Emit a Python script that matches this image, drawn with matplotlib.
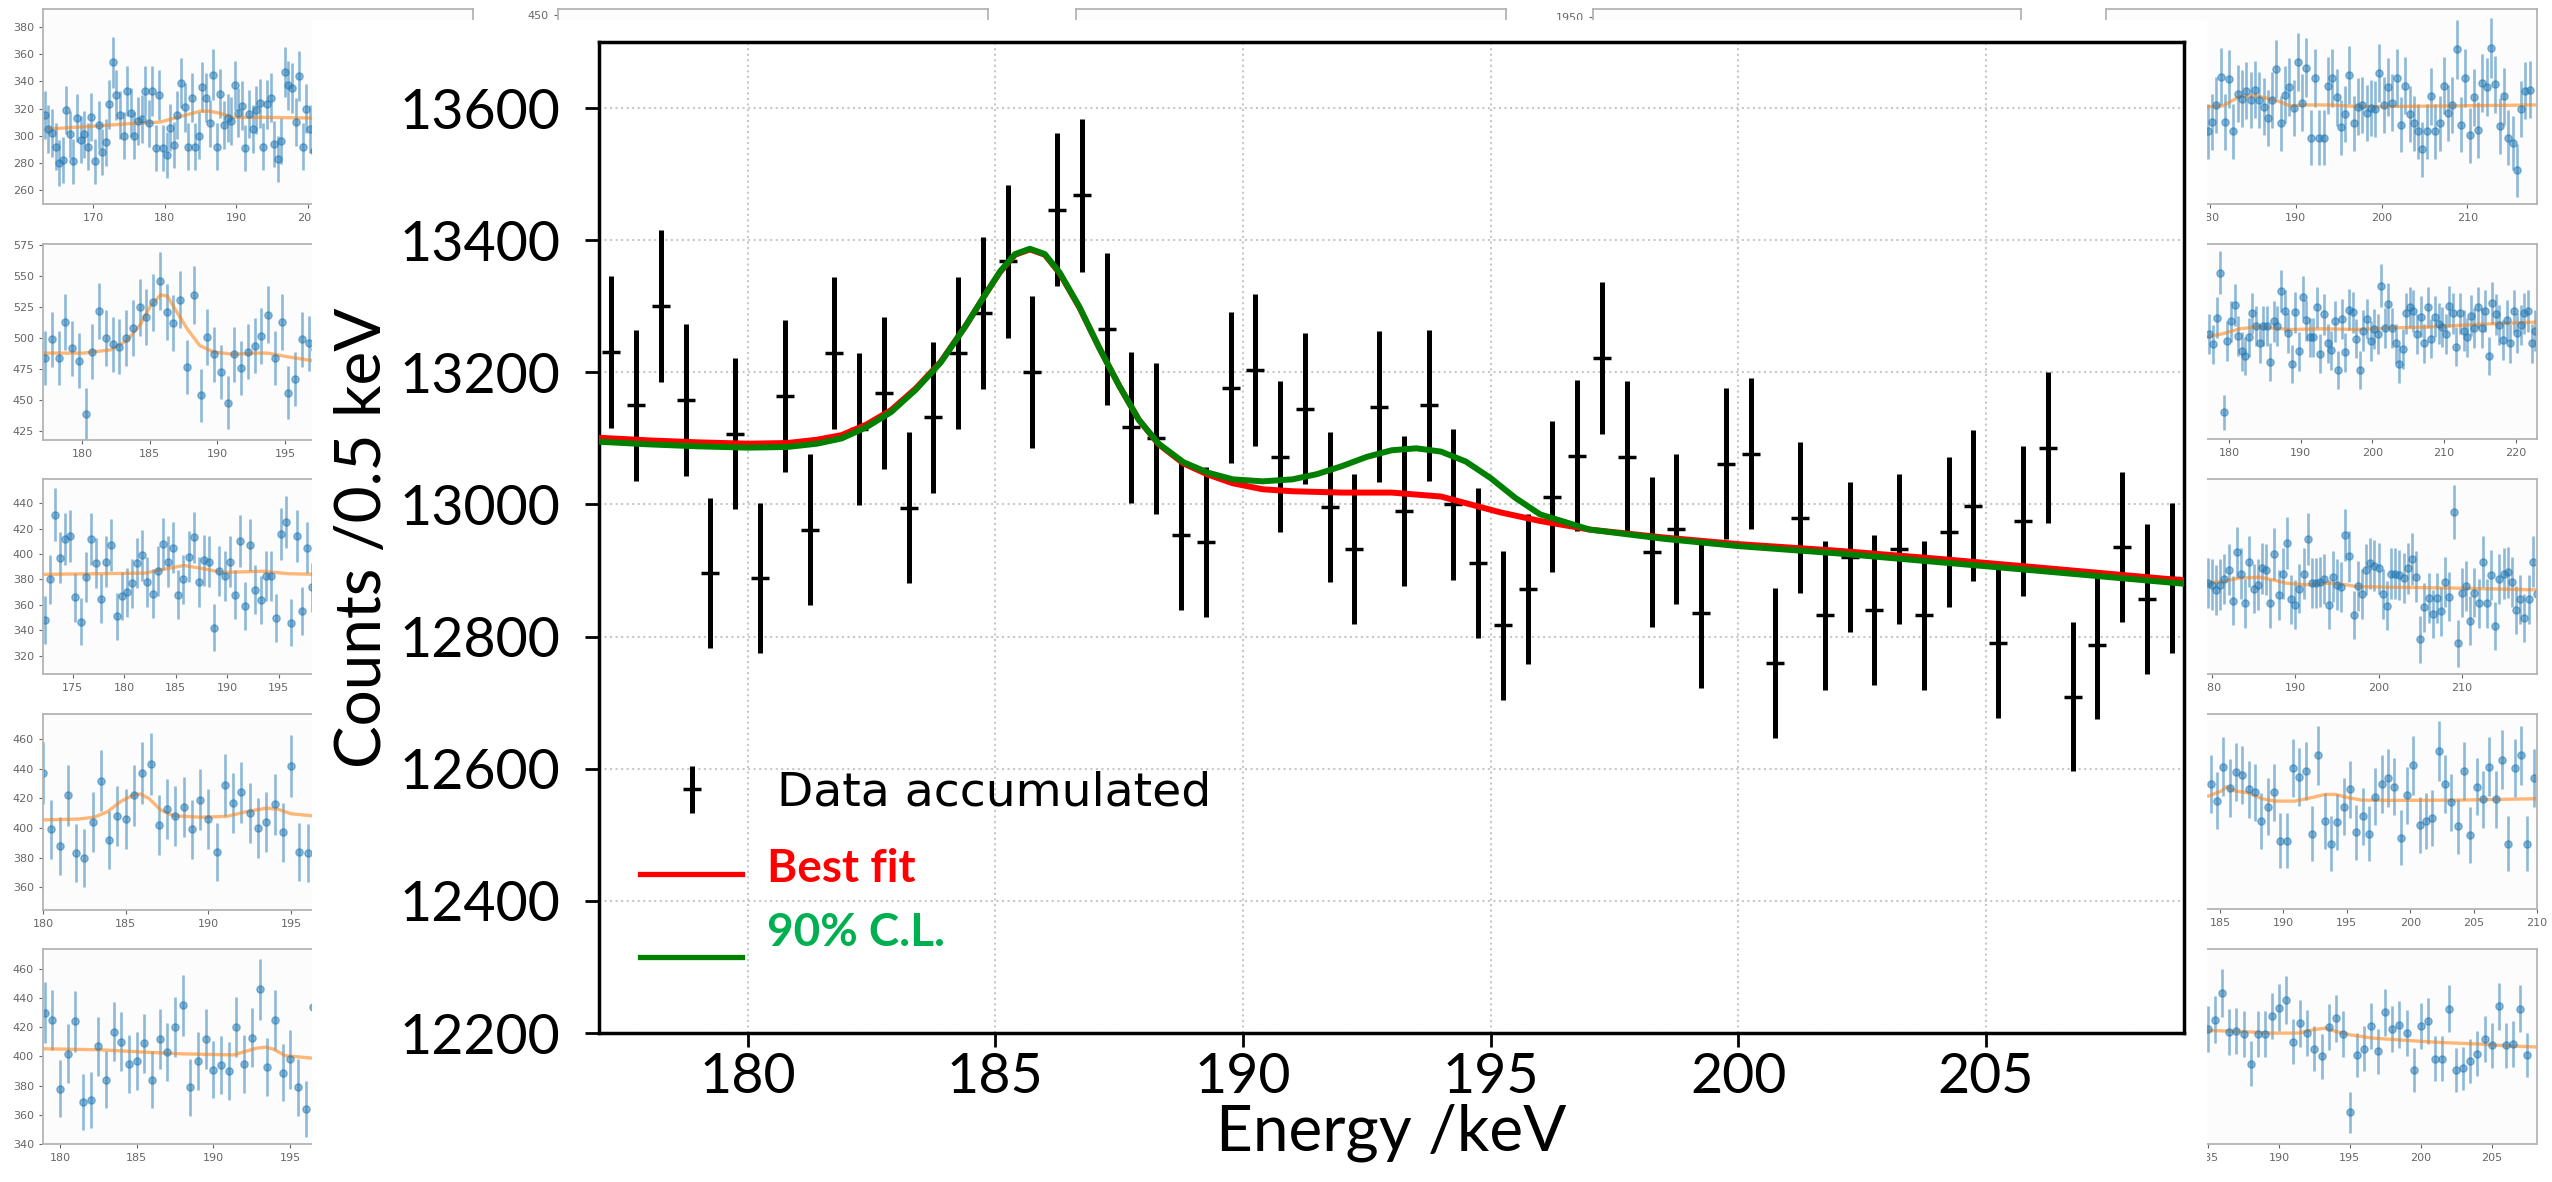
import numpy as np
import matplotlib
matplotlib.use('Agg')
import matplotlib.pyplot as plt
from matplotlib.patches import Rectangle

# ---- main spectrum (0.5 keV bins) ----
energy = np.arange(177.25, 209.0, 0.5)
counts = [13231, 13150, 13300, 13158, 12896, 13107, 12889, 13164, 12962, 13229,
          13114, 13169, 12995, 13132, 13230, 13290, 13368, 13200, 13446, 13468,
          13265, 13117, 13100, 12954, 12943, 13177, 13204, 13072, 13145, 12996,
          12933, 13148, 12990, 13150, 13000, 12911, 12817, 12872, 13012, 13074,
          13222, 13072, 12928, 12963, 12835, 13062, 13077, 12760, 12980, 12832,
          12921, 12840, 12933, 12832, 12958, 12998, 12790, 12975, 13086, 12709,
          12788, 12936, 12857, 12889]

best_e = [177.0, 178.0, 179.0, 180.0, 180.8, 181.4, 181.9, 182.4, 182.9, 183.4,
          183.9, 184.4, 184.8, 185.1, 185.4, 185.7, 186.0, 186.3, 186.7, 187.1,
          187.5, 187.9, 188.3, 188.8, 189.3, 189.8, 190.4, 191.0, 192.0, 193.0,
          194.0, 194.6, 195.2, 196.0, 197.0, 198.5, 200.0, 202.0, 204.0, 206.0, 209.0]
best_c = [13101, 13097, 13094, 13092, 13093, 13098, 13105, 13121, 13143, 13176,
          13216, 13270, 13318, 13352, 13378, 13386, 13378, 13350, 13298, 13237,
          13180, 13128, 13091, 13062, 13045, 13032, 13023, 13020, 13018, 13018,
          13012, 13000, 12988, 12975, 12962, 12950, 12940, 12930, 12918, 12905, 12885]

cl_e = [177.0, 178.0, 179.0, 180.0, 180.8, 181.4, 181.9, 182.4, 182.9, 183.4,
        183.9, 184.4, 184.8, 185.1, 185.4, 185.7, 186.0, 186.3, 186.7, 187.1,
        187.5, 187.9, 188.3, 188.8, 189.3, 189.8, 190.4, 191.0, 191.5, 192.0,
        192.5, 193.0, 193.5, 194.0, 194.5, 195.0, 195.5, 196.0, 197.0, 198.5,
        200.0, 202.0, 204.0, 206.0, 209.0]
cl_c = [13095, 13091, 13088, 13086, 13087, 13092, 13100, 13117, 13140, 13174,
        13215, 13270, 13318, 13353, 13379, 13387, 13379, 13351, 13299, 13237,
        13180, 13128, 13092, 13064, 13048, 13038, 13035, 13038, 13046, 13058,
        13072, 13082, 13085, 13080, 13065, 13040, 13010, 12985, 12962, 12948,
        12937, 12926, 12913, 12900, 12880]

# ---- small detector panels: left column ----
l1_start = 163.25
l1_counts = [315, 305, 302, 292, 280, 282, 319, 301, 281, 313, 297, 301, 292, 314, 281,
             308, 288, 295, 323, 354, 330, 315, 300, 333, 317, 300, 311, 312, 333, 309,
             333, 291, 330, 291, 286, 306, 293, 315, 339, 321, 292, 328, 292, 300, 336,
             328, 309, 345, 292, 331, 308, 313, 311, 337, 317, 322, 291, 316, 305, 319,
             324, 292, 323, 328, 294, 283, 296, 347, 337, 335, 310, 344, 292, 320, 305, 289]
l1_fit_e = [163.8, 170.0, 175.6, 179.3, 182.1, 184.9, 186.3, 187.7, 189.5, 194.2, 200.5]
l1_fit_c = [305, 307, 309, 310, 314, 318, 318, 316.5, 313.5, 313.5, 313]

l2_start = 177.25
l2_counts = [484, 499, 484, 513, 492, 482, 439, 489, 522, 500, 495, 493, 500, 508, 525,
             517, 529, 546, 521, 512, 531, 477, 535, 454, 501, 487, 473, 448, 487, 476,
             489, 494, 502, 519, 484, 513, 456, 467, 499, 496, 491]
l2_fit_e = [177.2, 180.1, 182.1, 183.3, 184.3, 185.05, 185.8, 186.3, 187.0, 187.8,
            188.7, 189.7, 191.2, 192.7, 193.7, 195.2, 197.0]
l2_fit_c = [488, 488, 490.6, 498, 511, 526, 535, 534, 521, 507, 494, 489, 487, 488, 488, 485, 482]

l3_start = 172.25
l3_counts = [348, 380, 431, 397, 412, 414, 366, 347, 382, 412, 393, 365, 394, 407, 351,
             367, 370, 377, 393, 399, 378, 369, 387, 408, 394, 405, 368, 380, 398, 413,
             378, 395, 394, 342, 387, 383, 394, 368, 410, 359, 407, 372, 364, 383, 383,
             350, 416, 425, 346, 414, 355, 405, 374, 400]
l3_fit_e = [172.0, 182.0, 183.5, 185.8, 188.0, 189.5, 193.5, 196.0, 199.0]
l3_fit_c = [384, 385, 387.5, 391, 388, 385.5, 386.5, 384.5, 384]

l4_start = 180.0
l4_counts = [437, 399, 388, 422, 383, 380, 404, 432, 392, 408, 406, 422, 437, 443, 402,
             413, 408, 414, 399, 419, 406, 384, 429, 417, 424, 410, 400, 404, 416, 397,
             442, 384, 383]
l4_fit_e = [180.0, 182.1, 183.1, 183.9, 184.7, 185.5, 185.9, 186.4, 187.1, 187.9,
            189.5, 191.1, 192.3, 193.5, 194.2, 195.0, 196.3]
l4_fit_c = [405.5, 406, 407.3, 411, 417.9, 422.4, 422.9, 420, 412.3, 408.2,
            407.3, 407.8, 411, 413.4, 412.7, 409.6, 408.2]

l5_start = 179.0
l5_counts = [430, 425, 378, 402, 424, 369, 370, 407, 384, 417, 410, 395, 397, 409, 384,
             412, 403, 420, 435, 379, 397, 412, 391, 394, 390, 420, 395, 413, 446, 393,
             425, 389, 398, 379, 364, 434]
l5_fit_e = [178.9, 182.6, 185.85, 188.0, 191.3, 191.7, 192.8, 193.4, 193.9, 194.7, 196.4]
l5_fit_c = [405.3, 404.6, 402.8, 401.8, 401.1, 402.3, 405.7, 406.4, 405, 400.5, 398.9]

# ---- small detector panels: right column ----
r1_start = 179.75
r1_counts = [451, 458, 471, 493, 458, 491, 451, 480, 476, 482, 475, 483, 475, 470, 461,
             475, 499, 457, 479, 485, 469, 504, 473, 500, 446, 492, 446, 446, 486, 492,
             477, 454, 464, 494, 457, 470, 471, 465, 469, 468, 496, 471, 485, 473, 492,
             456, 486, 464, 457, 451, 437, 451, 478, 451, 457, 486, 465, 471, 514, 456,
             492, 448, 477, 452, 488, 485, 515, 487, 455, 478, 446, 442, 421, 468, 482, 483]
r1_fit_e = [179.65, 181.5, 183.5, 185.4, 186.6, 188.1, 189.3, 191.2, 194.0, 197.1, 201.0, 208.7, 218.1]
r1_fit_c = [469.7, 470.5, 477.7, 478.2, 476.4, 473.8, 470.5, 471.2, 471.2, 470, 470, 470.5, 471.2]

r2_start = 177.25
r2_counts = [299, 290, 313, 352, 231, 293, 310, 324, 297, 284, 280, 296, 317, 306, 291,
             306, 306, 275, 310, 306, 336, 319, 300, 273, 318, 284, 331, 311, 296, 296,
             322, 282, 316, 291, 285, 310, 268, 312, 283, 320, 318, 295, 268, 302, 312,
             293, 303, 299, 341, 304, 325, 304, 291, 273, 286, 317, 322, 319, 299, 314,
             291, 322, 295, 314, 308, 305, 299, 323, 317, 288, 317, 302, 296, 315, 304,
             322, 304, 319, 280, 326, 316, 307, 294, 311, 291, 319, 300, 307, 317, 319,
             291, 302]
r2_fit_e = [177.0, 179.2, 181.5, 183.9, 188.5, 193.2, 197.8, 202.5, 207.1, 211.8, 216.4, 222.9]
r2_fit_c = [296.5, 299.4, 303.5, 305.2, 302.9, 303.5, 302.9, 304.3, 304.9, 306.4, 307.8, 309.3]

r3_start = 179.5
r3_counts = [353, 352, 348, 352, 356, 363, 340, 376, 360, 338, 369, 349, 352, 364, 363,
             338, 375, 344, 360, 383, 341, 337, 349, 360, 386, 353, 353, 354, 356, 337,
             358, 352, 350, 389, 373, 329, 351, 345, 363, 368, 366, 364, 345, 336, 360,
             360, 359, 357, 364, 371, 358, 311, 335, 342, 330, 342, 332, 354, 343, 406,
             308, 346, 351, 325, 346, 338, 369, 338, 359, 321, 356, 360, 361, 354, 333,
             341, 327, 341, 369, 345]
r3_fit_e = [179.4, 181.3, 183.3, 185.7, 187.3, 188.9, 191.3, 194.1, 196.1, 197.3, 201.3, 209.3, 218.9]
r3_fit_c = [353, 354.3, 356.8, 357.5, 355.5, 353, 351.8, 353, 351.8, 350.5, 350, 349.3, 348]

r4_start = 184.25
r4_counts = [411, 399, 423, 408, 419, 417, 407, 405, 385, 395, 405, 371, 371, 422, 416,
             420, 376, 431, 385, 369, 384, 395, 407, 377, 388, 376, 402, 411, 415, 409,
             373, 403, 424, 382, 385, 387, 434, 411, 398, 381, 420, 375, 409, 400, 423,
             400, 428, 369, 422, 431, 369, 415]
r4_fit_e = [184.1, 185.1, 185.5, 186.2, 187.2, 188.3, 189.3, 190.9, 192.2, 193.3,
            194.1, 195.1, 196.2, 198.6, 203.8, 210.1]
r4_fit_c = [402.4, 405.9, 408.9, 405.9, 404.7, 400.5, 398.8, 398.8, 401.2, 403.5,
            403.5, 401.2, 399.5, 399.3, 399.5, 400.5]

r5_start = 185.0
r5_counts = [356, 364, 386, 354, 355, 352, 328, 352, 352, 367, 374, 380, 346, 361, 353,
             340, 334, 358, 365, 352, 288, 335, 340, 359, 338, 370, 356, 360, 353, 323,
             359, 363, 332, 332, 373, 323, 324, 330, 336, 348, 343, 375, 343, 344, 373, 335]
r5_fit_e = [184.8, 187.2, 189.5, 191.4, 192.4, 193.3, 194.0, 195.0, 196.6, 199.0,
            201.4, 203.8, 206.1, 208.3]
r5_fit_c = [355.2, 354.4, 353, 353, 355.8, 357.1, 354.4, 351.6, 348.9, 347,
            345.3, 344.2, 342.6, 341.5]

W, H = 2552, 1182
fig = plt.figure(figsize=(W / 100, H / 100), dpi=100)


def rect(l, t, r, b):
    return [l / W, 1 - b / H, (r - l) / W, (b - t) / H]


def small_panel(box, start, vals, fit_e, fit_c, xlim, ylim, xticks, yticks=()):
    ax = fig.add_axes(rect(*box))
    ax.set_facecolor('#fcfcfc')
    if vals is not None:
        e = start + 0.5 * np.arange(len(vals))
        c = np.array(vals, dtype=float)
        ax.errorbar(e, c, yerr=np.sqrt(c), fmt='o', color='#1f77b4', alpha=0.5,
                    ms=5.2, elinewidth=1.9, capsize=0)
        ax.plot(fit_e, fit_c, color='#ff7f0e', alpha=0.55, lw=2.4)
    ax.set_xlim(*xlim)
    ax.set_ylim(*ylim)
    ax.set_xticks(xticks)
    ax.set_yticks(yticks)
    ax.tick_params(labelsize=8, colors='#666666', length=3, width=0.8)
    for s in ax.spines.values():
        s.set_color('#b4b4b4')
        s.set_linewidth(1.3)
    return ax


# left column (only ticks that are not hidden behind the main sheet)
small_panel((43, 9, 473, 204), l1_start, l1_counts, l1_fit_e, l1_fit_c,
            (163, 223), (249.7, 393.3), [170, 180, 190, 200], range(260, 381, 20))
small_panel((43, 244, 473, 440), l2_start, l2_counts, l2_fit_e, l2_fit_c,
            (177.1, 208.9), (417.9, 576), [180, 185, 190, 195], range(425, 576, 25))
small_panel((43, 479, 473, 674), l3_start, l3_counts, l3_fit_e, l3_fit_c,
            (172.1, 213.9), (305.8, 458.9), [175, 180, 185, 190, 195], range(320, 441, 20))
small_panel((43, 714, 473, 910), l4_start, l4_counts, l4_fit_e, l4_fit_c,
            (180, 206), (344.7, 476.9), [180, 185, 190, 195], range(360, 461, 20))
small_panel((43, 949, 473, 1144), l5_start, l5_counts, l5_fit_e, l5_fit_c,
            (178.9, 206.9), (340, 473.7), [180, 185, 190, 195], range(340, 461, 20))

# right column
small_panel((2106, 9, 2537, 204), r1_start, r1_counts, r1_fit_e, r1_fit_c,
            (167.9, 218.1), (395, 545), [180, 190, 200, 210])
small_panel((2106, 244, 2537, 439), r2_start, r2_counts, r2_fit_e, r2_fit_c,
            (162.8, 223.0), (208, 377), [180, 190, 200, 210, 220])
small_panel((2106, 479, 2537, 674), r3_start, r3_counts, r3_fit_e, r3_fit_c,
            (167.3, 219), (285, 431), [180, 190, 200, 210])
small_panel((2106, 714, 2537, 909), r4_start, r4_counts, r4_fit_e, r4_fit_c,
            (176, 210), (323, 460), [185, 190, 195, 200, 205, 210])
small_panel((2106, 949, 2537, 1144), r5_start, r5_counts, r5_fit_e, r5_fit_c,
            (177.8, 208.2), (262, 422), [185, 190, 195, 200, 205])

# top row panels, mostly hidden behind the main figure
small_panel((558, 9, 988, 204), 0, None, None, None, (0, 1), (250, 456), [], [450])
small_panel((1076, 9, 1506, 204), 0, None, None, None, (0, 1), (0, 1), [], [])
small_panel((1593, 9, 2021, 204), 0, None, None, None, (0, 1), (1700, 1960), [], [1950])

# white sheet of the main plot
fig.add_artist(Rectangle((312 / W, 0), (2207 - 312) / W, 1 - 20 / H,
                         transform=fig.transFigure, facecolor='white',
                         edgecolor='none', zorder=1))

# ---- main plot ----
ax = fig.add_axes(rect(599, 42, 2184, 1033))
ax.set_zorder(2)
ax.set_facecolor('white')

c = np.array(counts, dtype=float)
eb = ax.errorbar(energy, c, yerr=np.sqrt(c), fmt='_', color='black', ms=13, mew=2.5,
                 elinewidth=3.6, capsize=0, zorder=3)
ax.plot(best_e, best_c, color='red', lw=4.3, zorder=4)
ax.plot(cl_e, cl_c, color='green', lw=4.3, zorder=5)

ax.set_xlim(177, 209)
ax.set_ylim(12200, 13700)
ax.set_xticks(range(180, 206, 5))
ax.set_yticks(range(12200, 13601, 200))
ax.grid(True, linestyle=':', color='#c8c8c8', lw=1.5)
ax.set_axisbelow(True)

for lab in ax.get_xticklabels() + ax.get_yticklabels():
    lab.set_fontfamily('Lato')
    lab.set_fontsize(40)
ax.tick_params(axis='both', length=10, width=2, direction='out')
ax.tick_params(axis='y', pad=18)
ax.tick_params(axis='x', pad=4)
for s in ax.spines.values():
    s.set_linewidth(2.5)

ax.set_xlabel('Energy /keV', fontfamily='Lato', fontsize=46, labelpad=0)
ax.set_ylabel('Counts /0.5 keV', fontfamily='Lato', fontsize=46, labelpad=5)

leg = ax.legend([eb], ['Data accumulated'], loc='center left',
                bbox_to_anchor=(0.002, 0.242), frameon=False,
                prop={'family': 'DejaVu Sans', 'size': 34})

ax.plot([0.026, 0.09], [0.160, 0.160], transform=ax.transAxes, color='red', lw=3.8)
ax.plot([0.026, 0.09], [0.077, 0.077], transform=ax.transAxes, color='green', lw=3.8)
ax.text(0.106, 0.165, 'Best fit', transform=ax.transAxes, color='red',
        fontfamily='Lato', fontweight='bold', fontsize=33, va='center')
ax.text(0.106, 0.101, '90% C.L.', transform=ax.transAxes, color='#00b050',
        fontfamily='Lato', fontweight='bold', fontsize=33, va='center')

fig.savefig('out.png', dpi=100)
